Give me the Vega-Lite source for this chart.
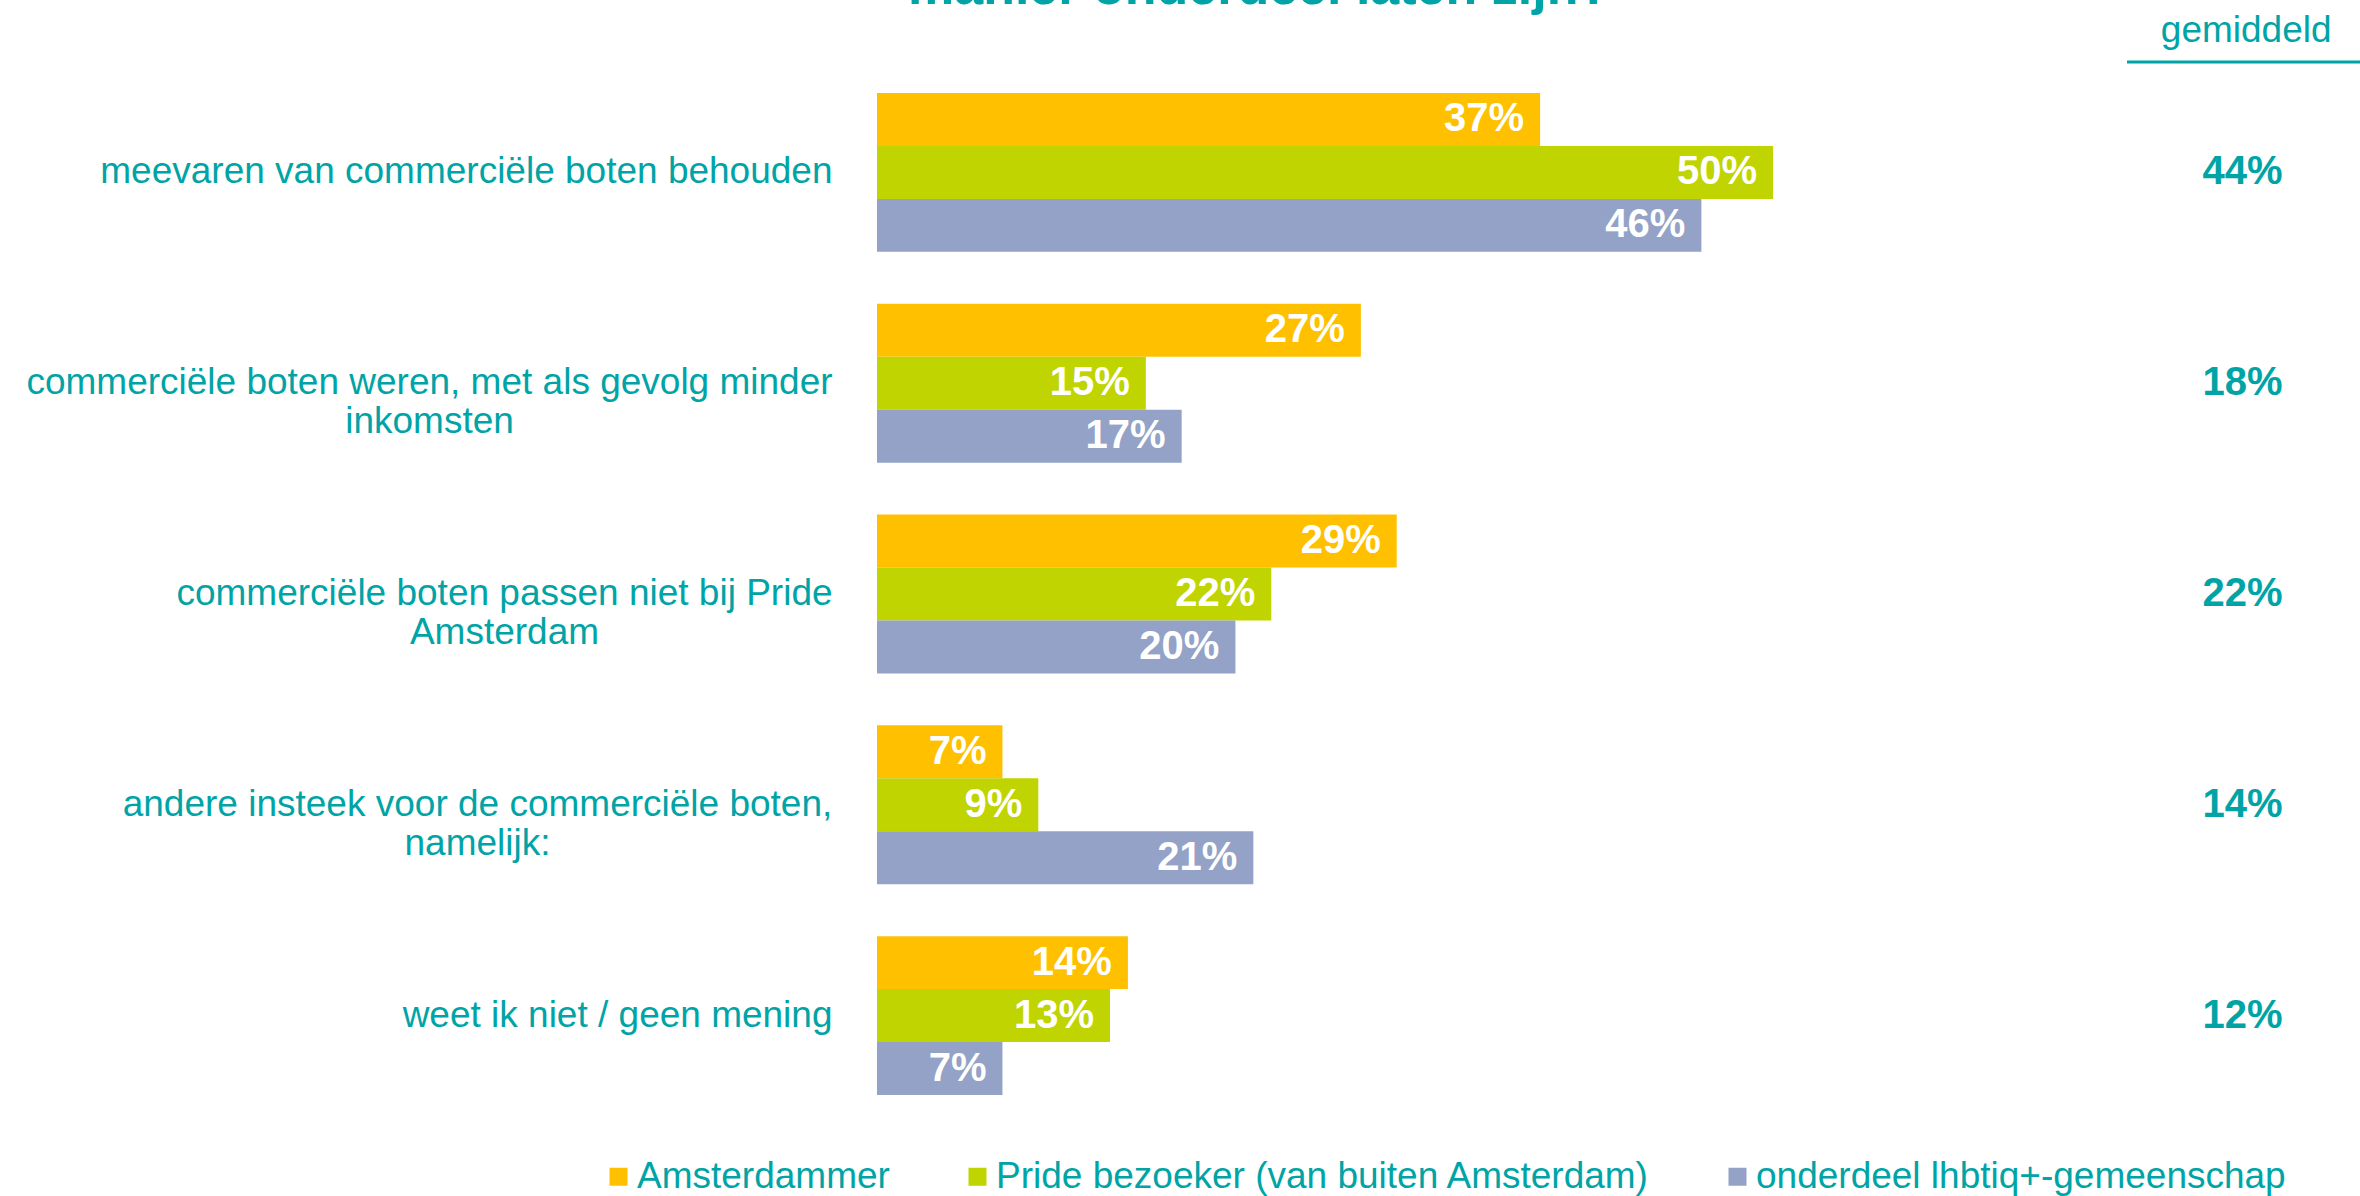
{
  "$schema": "https://vega.github.io/schema/vega-lite/v6.json",
  "autosize": "none",
  "padding": {"left": 877, "top": 67, "right": 0, "bottom": 75},
  "width": 1483,
  "height": 1054,
  "background": "white",
  "config": {"view": {"stroke": null}, "font": "Liberation Sans"},
  "title": {
    "text": "manier onderdeel laten zijn?",
    "font": "Liberation Sans",
    "fontSize": 52,
    "fontWeight": "bold",
    "color": "#00A4A6",
    "anchor": "start",
    "frame": "group",
    "dx": 31,
    "baseline": "alphabetic",
    "offset": -44
  },
  "datasets": {
    "bars": [
      {"category": "meevaren van commerciële boten behouden", "group": "Amsterdammer", "value": 0.37},
      {"category": "meevaren van commerciële boten behouden", "group": "Pride bezoeker (van buiten Amsterdam)", "value": 0.50},
      {"category": "meevaren van commerciële boten behouden", "group": "onderdeel lhbtiq+-gemeenschap", "value": 0.46},
      {"category": "commerciële boten weren, met als gevolg minder inkomsten", "group": "Amsterdammer", "value": 0.27},
      {"category": "commerciële boten weren, met als gevolg minder inkomsten", "group": "Pride bezoeker (van buiten Amsterdam)", "value": 0.15},
      {"category": "commerciële boten weren, met als gevolg minder inkomsten", "group": "onderdeel lhbtiq+-gemeenschap", "value": 0.17},
      {"category": "commerciële boten passen niet bij Pride Amsterdam", "group": "Amsterdammer", "value": 0.29},
      {"category": "commerciële boten passen niet bij Pride Amsterdam", "group": "Pride bezoeker (van buiten Amsterdam)", "value": 0.22},
      {"category": "commerciële boten passen niet bij Pride Amsterdam", "group": "onderdeel lhbtiq+-gemeenschap", "value": 0.20},
      {"category": "andere insteek voor de commerciële boten, namelijk:", "group": "Amsterdammer", "value": 0.07},
      {"category": "andere insteek voor de commerciële boten, namelijk:", "group": "Pride bezoeker (van buiten Amsterdam)", "value": 0.09},
      {"category": "andere insteek voor de commerciële boten, namelijk:", "group": "onderdeel lhbtiq+-gemeenschap", "value": 0.21},
      {"category": "weet ik niet / geen mening", "group": "Amsterdammer", "value": 0.14},
      {"category": "weet ik niet / geen mening", "group": "Pride bezoeker (van buiten Amsterdam)", "value": 0.13},
      {"category": "weet ik niet / geen mening", "group": "onderdeel lhbtiq+-gemeenschap", "value": 0.07}
    ],
    "avg": [
      {"category": "meevaren van commerciële boten behouden", "avg": 0.44},
      {"category": "commerciële boten weren, met als gevolg minder inkomsten", "avg": 0.18},
      {"category": "commerciële boten passen niet bij Pride Amsterdam", "avg": 0.22},
      {"category": "andere insteek voor de commerciële boten, namelijk:", "avg": 0.14},
      {"category": "weet ik niet / geen mening", "avg": 0.12}
    ]
  },
  "layer": [
    {
      "data": {"name": "bars"},
      "mark": {"type": "bar", "cornerRadius": 0},
      "encoding": {
        "y": {
          "field": "category",
          "type": "nominal",
          "scale": {
            "domain": [
              "meevaren van commerciële boten behouden",
              "commerciële boten weren, met als gevolg minder inkomsten",
              "commerciële boten passen niet bij Pride Amsterdam",
              "andere insteek voor de commerciële boten, namelijk:",
              "weet ik niet / geen mening"
            ],
            "paddingInner": 0,
            "paddingOuter": 0
          },
          "axis": {
            "title": null,
            "domain": false,
            "ticks": false,
            "labelFont": "Liberation Sans",
            "labelFontSize": 37,
            "labelColor": "#00A4A6",
            "labelLimit": 1000,
            "labelLineHeight": 39,
            "labelBaseline": "middle",
            "labelExpr": "datum.value == 'commerciële boten weren, met als gevolg minder inkomsten' ? ['commerciële boten weren, met als gevolg minder', 'inkomsten'] : datum.value == 'commerciële boten passen niet bij Pride Amsterdam' ? ['commerciële boten passen niet bij Pride', 'Amsterdam'] : datum.value == 'andere insteek voor de commerciële boten, namelijk:' ? ['andere insteek voor de commerciële boten,', 'namelijk:'] : datum.value",
            "labelAlign": {
              "condition": {"test": "datum.value == 'commerciële boten weren, met als gevolg minder inkomsten' || datum.value == 'commerciële boten passen niet bij Pride Amsterdam' || datum.value == 'andere insteek voor de commerciële boten, namelijk:'", "value": "center"},
              "value": "right"
            },
            "labelPadding": {
              "condition": [
                {"test": "datum.value == 'commerciële boten weren, met als gevolg minder inkomsten'", "value": 448},
                {"test": "datum.value == 'commerciële boten passen niet bij Pride Amsterdam'", "value": 373},
                {"test": "datum.value == 'andere insteek voor de commerciële boten, namelijk:'", "value": 400}
              ],
              "value": 45
            }
          }
        },
        "yOffset": {
          "field": "group",
          "type": "nominal",
          "scale": {
            "domain": ["Amsterdammer", "Pride bezoeker (van buiten Amsterdam)", "onderdeel lhbtiq+-gemeenschap"],
            "paddingInner": 0,
            "paddingOuter": 0.49
          }
        },
        "x": {
          "field": "value",
          "type": "quantitative",
          "scale": {"domain": [0, 0.8275], "nice": false, "zero": true},
          "axis": null
        },
        "color": {
          "field": "group",
          "type": "nominal",
          "scale": {
            "domain": ["Amsterdammer", "Pride bezoeker (van buiten Amsterdam)", "onderdeel lhbtiq+-gemeenschap"],
            "range": ["#FFC000", "#BFD400", "#93A2C6"]
          },
          "legend": {
            "title": null,
            "orient": "none",
            "direction": "horizontal",
            "legendX": -277,
            "legendY": 1091,
            "symbolType": "square",
            "symbolSize": 324,
            "symbolStrokeWidth": 0,
            "labelFont": "Liberation Sans",
            "labelFontSize": 37,
            "labelColor": "#00A4A6",
            "labelLimit": 1000,
            "labelOffset": 0,
            "columnPadding": 69,
            "padding": 0
          }
        }
      }
    },
    {
      "data": {"name": "bars"},
      "mark": {"type": "text", "align": "right", "baseline": "middle", "dx": -16, "fontSize": 40, "fontWeight": "bold", "color": "white", "font": "Liberation Sans"},
      "encoding": {
        "y": {"field": "category", "type": "nominal"},
        "yOffset": {"field": "group", "type": "nominal"},
        "x": {"field": "value", "type": "quantitative"},
        "text": {"field": "value", "type": "quantitative", "format": ".0%"}
      }
    },
    {
      "data": {"name": "avg"},
      "mark": {"type": "text", "align": "center", "baseline": "middle", "fontSize": 40, "fontWeight": "bold", "color": "#00A4A6", "font": "Liberation Sans"},
      "encoding": {
        "y": {"field": "category", "type": "nominal"},
        "x": {"datum": 0.762, "type": "quantitative"},
        "text": {"field": "avg", "type": "quantitative", "format": ".0%"}
      }
    },
    {
      "data": {"values": [{"label": "gemiddeld"}]},
      "mark": {"type": "text", "align": "center", "baseline": "alphabetic", "dy": -25, "fontSize": 37, "color": "#00A4A6", "font": "Liberation Sans"},
      "encoding": {
        "y": {"datum": "meevaren van commerciële boten behouden", "type": "nominal", "bandPosition": 0},
        "x": {"datum": 0.764, "type": "quantitative"},
        "text": {"field": "label", "type": "nominal"}
      }
    },
    {
      "data": {"values": [{"label": "gemiddeld"}]},
      "mark": {"type": "rule", "color": "#00A4A6", "strokeWidth": 3},
      "encoding": {
        "y": {"datum": "meevaren van commerciële boten behouden", "type": "nominal", "bandPosition": 0},
        "yOffset": {"value": -5},
        "x": {"datum": 0.6975, "type": "quantitative"},
        "x2": {"datum": 0.8275}
      }
    }
  ]
}
